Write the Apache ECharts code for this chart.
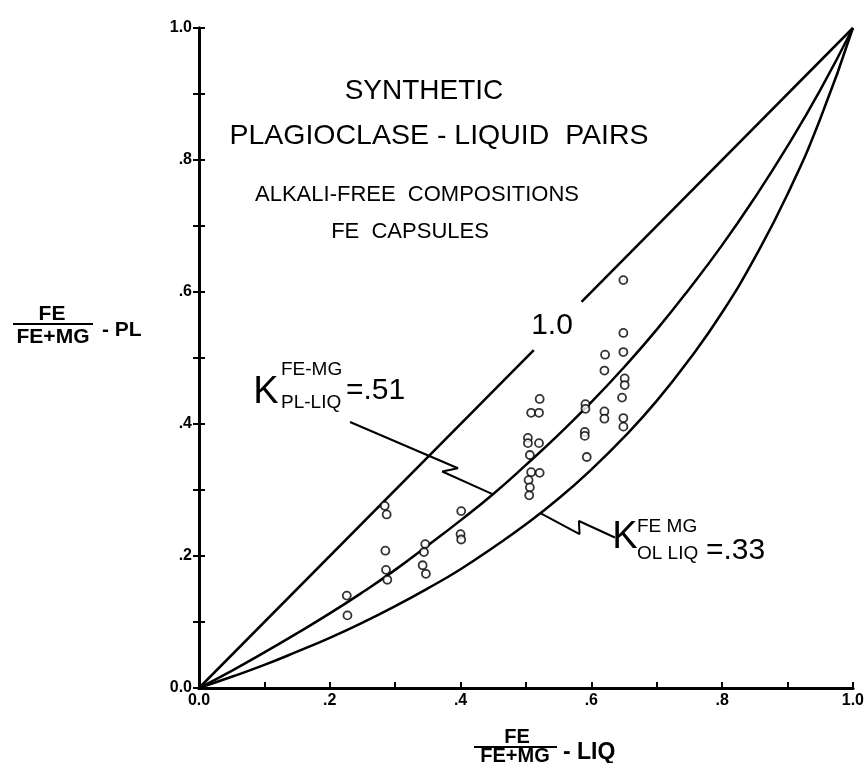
<!DOCTYPE html>
<html>
<head>
<meta charset="utf-8">
<title>Synthetic plagioclase-liquid pairs</title>
<script src="https://cdn.jsdelivr.net/npm/echarts@6/dist/echarts.min.js"></script>
<style>
  html, body { margin: 0; padding: 0; background: #fff; }
  #chart { width: 867px; height: 763px; }
</style>
</head>
<body>
<div id="chart"></div>
<script>
// tick labels, one per 0.1 step (empty = tick only)
const tickLabels = ["0.0", "", ".2", "", ".4", "", ".6", "", ".8", "", "1.0"];

// Fe/(Fe+Mg) liquid (x) and plagioclase (y) for the experiments
const liqFe = [0.226, 0.227, 0.284, 0.287, 0.285, 0.286, 0.288, 0.346, 0.344, 0.342, 0.347,
  0.401, 0.400, 0.401, 0.521, 0.508, 0.520, 0.503, 0.503, 0.520, 0.506, 0.508, 0.521, 0.504,
  0.506, 0.505, 0.591, 0.591, 0.590, 0.590, 0.593, 0.621, 0.620, 0.620, 0.620, 0.649, 0.649,
  0.649, 0.651, 0.651, 0.647, 0.649, 0.649];
const plFe = [0.140, 0.110, 0.276, 0.263, 0.208, 0.179, 0.164, 0.218, 0.206, 0.186, 0.173,
  0.268, 0.233, 0.225, 0.438, 0.417, 0.417, 0.379, 0.371, 0.371, 0.353, 0.327, 0.326, 0.315,
  0.304, 0.292, 0.430, 0.423, 0.388, 0.382, 0.350, 0.505, 0.481, 0.419, 0.408, 0.618, 0.538,
  0.509, 0.469, 0.459, 0.440, 0.409, 0.396];

// curves
const curveX = [0, 0.05, 0.1, 0.15, 0.2, 0.25, 0.3, 0.35, 0.4, 0.45, 0.5, 0.55, 0.6, 0.65,
  0.7, 0.75, 0.8, 0.85, 0.9, 0.95, 1];
const k51Y = [0, 0.026, 0.054, 0.083, 0.113, 0.145, 0.179, 0.216, 0.254, 0.294, 0.338, 0.384,
  0.433, 0.486, 0.543, 0.605, 0.671, 0.743, 0.821, 0.906, 1];
const k33Y = [0, 0.017, 0.035, 0.055, 0.076, 0.099, 0.124, 0.151, 0.180, 0.213, 0.248, 0.287,
  0.331, 0.380, 0.435, 0.498, 0.569, 0.652, 0.748, 0.862, 1];
// K = 1.0 line, broken where its label sits
const k10Low = [[0, 0], [0.512, 0.512]];
const k10High = [[0.585, 0.585], [1, 1]];

// pointer lines from the K labels to their curves
const pointer51 = [[0.231, 0.403], [0.396, 0.333], [0.372, 0.328], [0.448, 0.294]];
const pointer33 = [[0.522, 0.265], [0.582, 0.233], [0.581, 0.253], [0.636, 0.228]];

const pts = liqFe.map((x, i) => [x, plFe[i]]);
const zip = (xs, ys) => xs.map((x, i) => [x, ys[i]]);

const FONT = "Liberation Sans, Arial, sans-serif";
const lbl = (v) => tickLabels[Math.round(v * 10)] || "";

const chart = echarts.init(document.getElementById("chart"));

// plain text helper for the annotations
function txt(x, y, text, size, align, weight) {
  return {
    type: "text", x: x, y: y, z: 10,
    style: {
      text: text, fontSize: size, fontFamily: FONT, fontWeight: weight || "normal",
      fill: "#000", align: align || "center", verticalAlign: "middle"
    }
  };
}
function bar(x1, y1, x2, y2) {
  return { type: "line", z: 10, shape: { x1: x1, y1: y1, x2: x2, y2: y2 },
    style: { stroke: "#000", lineWidth: 2 } };
}

const option = {
  backgroundColor: "#fff",
  animation: false,
  grid: { left: 199, top: 28, width: 660, height: 660 },
  xAxis: [
    {
      type: "value", min: 0, max: 1, interval: 0.1, position: "bottom",
      axisLine: { show: true, lineStyle: { color: "#000", width: 3 } },
      axisTick: { show: true, inside: true, length: 6, lineStyle: { color: "#000", width: 2 } },
      axisLabel: { formatter: lbl, color: "#000", fontSize: 16, fontWeight: "bold", fontFamily: FONT, margin: 5 },
      splitLine: { show: false }
    },
    {
      type: "value", min: 0, max: 1, position: "top",
      axisLine: { show: true, lineStyle: { color: "#000", width: 3 } },
      axisTick: { show: false }, axisLabel: { show: false }, splitLine: { show: false }
    }
  ],
  yAxis: [
    {
      type: "value", min: 0, max: 1, interval: 0.1, position: "left",
      axisLine: { show: true, lineStyle: { color: "#000", width: 3 } },
      axisTick: { show: true, inside: true, length: 6, lineStyle: { color: "#000", width: 2 } },
      axisLabel: { formatter: lbl, color: "#000", fontSize: 16, fontWeight: "bold", fontFamily: FONT, margin: 7 },
      splitLine: { show: false }
    },
    {
      type: "value", min: 0, max: 1, interval: 0.1, position: "right",
      axisLine: { show: true, lineStyle: { color: "#000", width: 3 } },
      axisTick: { show: true, inside: true, length: 6, lineStyle: { color: "#000", width: 2 } },
      axisLabel: { show: false }, splitLine: { show: false }
    }
  ],
  series: [
    { type: "line", data: k10Low, symbol: "none", lineStyle: { color: "#000", width: 2.5 } },
    { type: "line", data: k10High, symbol: "none", lineStyle: { color: "#000", width: 2.5 } },
    { type: "line", data: zip(curveX, k51Y), symbol: "none", smooth: true, lineStyle: { color: "#000", width: 2.5 } },
    { type: "line", data: zip(curveX, k33Y), symbol: "none", smooth: true, lineStyle: { color: "#000", width: 2.5 } },
    { type: "line", data: pointer51, symbol: "none", lineStyle: { color: "#000", width: 2 } },
    { type: "line", data: pointer33, symbol: "none", lineStyle: { color: "#000", width: 2 } },
    {
      type: "scatter", data: pts, symbol: "circle", symbolSize: 8, z: 5,
      itemStyle: { color: "#fff", borderColor: "#000", borderWidth: 1.8 }
    }
  ],
  graphic: [
    txt(424, 91, "SYNTHETIC", 28),
    txt(439, 136, "PLAGIOCLASE - LIQUID  PAIRS", 28.5),
    txt(417, 195, "ALKALI-FREE  COMPOSITIONS", 22),
    txt(410, 232, "FE  CAPSULES", 22),
    txt(552, 326, "1.0", 30),
    // K pl-liq label
    txt(266, 393, "K", 38),
    txt(281, 370, "FE-MG", 19, "left"),
    txt(281, 403, "PL-LIQ", 19, "left"),
    txt(346, 391, "=.51", 30, "left"),
    // K ol-liq label
    txt(625, 538, "K", 38),
    txt(637, 527, "FE MG", 19, "left"),
    txt(637, 554, "OL LIQ", 19, "left"),
    txt(706, 551, "=.33", 30, "left"),
    // y axis title
    txt(52, 314, "FE", 21, "center", "bold"),
    bar(13, 324, 93, 324),
    txt(53, 337, "FE+MG", 21, "center", "bold"),
    txt(102, 330, "- PL", 21, "left", "bold"),
    // x axis title
    txt(517, 737, "FE", 20, "center", "bold"),
    bar(474, 747, 557, 747),
    txt(515, 756, "FE+MG", 20, "center", "bold"),
    txt(563, 753, "- LIQ", 23, "left", "bold")
  ]
};

chart.setOption(option);
</script>
</body>
</html>
